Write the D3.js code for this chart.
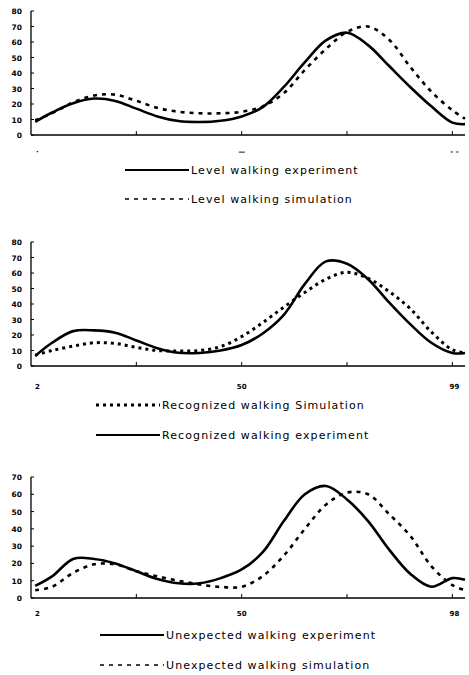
<!DOCTYPE html>
<html>
<head>
<meta charset="utf-8">
<script src="https://cdn.jsdelivr.net/npm/d3@7"></script>
<style>
  html, body { margin: 0; padding: 0; background: #fff; }
  svg { display: block; }
</style>
</head>
<body>
<script>
// gait cycle positions (%) shared by every curve
const gaitPct = [1, 5, 10, 15, 20, 25, 30, 35, 40, 45, 50, 55, 60, 65, 70, 75, 80, 85, 90, 95, 100, 103];

// panel 1 : level walking
const levelExp = [8.5, 14.5, 20.5, 23.5, 22, 17, 12, 9, 8.4, 9.2, 12, 18, 31, 47, 61, 66, 58, 44.5, 31, 18.5, 8, 7];
const levelSim = [9.5, 14, 21, 25.5, 26, 22, 17.5, 15, 14, 14, 15, 18.5, 27, 42, 55.5, 66.5, 70, 61.5, 44, 28, 16, 10.5];

// panel 2 : recognized walking
const recogSim = [7, 10, 12.8, 15, 14.5, 12, 10, 9.7, 10, 12.5, 19, 28, 38, 47.5, 56, 60.5, 56.5, 48, 37, 22, 10.5, 8.4];
const recogExp = [6.5, 15, 22.5, 23, 21.5, 16.5, 11.5, 8.5, 8.4, 10, 13.5, 21, 33, 53, 67.5, 66, 56, 41, 27, 15, 8.4, 8.4];

// panel 3 : unexpected walking
const unexpExp = [7, 12.5, 22.6, 22.6, 20, 15.5, 11, 8.5, 8.5, 11.5, 16.5, 26.5, 44.5, 60, 64.8, 57, 44.5, 28, 14, 6.5, 11.5, 10.5];
const unexpSim = [4.5, 6.5, 14.5, 19.5, 19.5, 15.5, 12.5, 10, 7.8, 6.4, 6.5, 12.7, 24.5, 40, 54, 61, 60, 48.5, 36, 18.5, 7.5, 4.5];

// tick labels under each panel (as printed)
const xLabels1 = ["\u00b7", "\u2014", "- -"];
const xLabels2 = ["2", "50", "99"];
const xLabels3 = ["2", "50", "98"];
const yTicks80 = [0, 10, 20, 30, 40, 50, 60, 70, 80];
const yTicks70 = [0, 10, 20, 30, 40, 50, 60, 70];

const width = 469, height = 675;

const svg = d3.select("body").append("svg")
  .attr("xmlns", "http://www.w3.org/2000/svg")
  .attr("width", width)
  .attr("height", height);

const x = d3.scaleLinear().domain([0, 103]).range([31, 465]);
const xTickVals = [25, 50, 75, 100];
const xLabelPos = [1.5, 50, 100.5];

const styles = {
  solid: { dash: null, width: 2.6 },
  dash: { dash: "4,5", width: 2.6 },
  dot: { dash: "3,4", width: 3 }
};
const legendStyles = {
  solid: { dash: null, width: 2 },
  dash: { dash: "4,5", width: 1.6 },
  dot: { dash: "3,4", width: 3 }
};

function panel(cfg) {
  const g = svg.append("g");
  const y = d3.scaleLinear().domain([0, cfg.yMax]).range([cfg.bottom, cfg.top]);

  // curves
  cfg.series.forEach(s => {
    const line = d3.line()
      .x((d, i) => x(gaitPct[i]))
      .y(d => y(d))
      .curve(d3.curveCatmullRom.alpha(0.5));
    g.append("path")
      .datum(s.values)
      .attr("d", line)
      .attr("fill", "none")
      .attr("stroke", "#000")
      .attr("stroke-width", styles[s.style].width)
      .attr("stroke-dasharray", styles[s.style].dash)
      .attr("stroke-linejoin", "round");
  });

  // y axis
  g.append("line")
    .attr("x1", x(0)).attr("x2", x(0))
    .attr("y1", y(0)).attr("y2", y(cfg.yMax))
    .attr("stroke", "#000").attr("stroke-width", 1.3);
  g.selectAll(".yt").data(cfg.yTicks).enter().append("line")
    .attr("x1", x(0)).attr("x2", x(0) + 3)
    .attr("y1", d => y(d)).attr("y2", d => y(d))
    .attr("stroke", "#000").attr("stroke-width", 1);
  g.selectAll(".yl").data(cfg.yTicks).enter().append("text")
    .attr("x", 22)
    .attr("y", d => y(d) + 3)
    .attr("text-anchor", "end")
    .attr("font-family", "DejaVu Sans")
    .attr("font-size", "7.5px")
    .attr("font-weight", 700)
    .text(d => d);

  // x axis
  g.append("line")
    .attr("x1", x(0)).attr("x2", x(103))
    .attr("y1", y(0)).attr("y2", y(0))
    .attr("stroke", "#000").attr("stroke-width", 1.3);
  g.selectAll(".xt").data(xTickVals).enter().append("line")
    .attr("x1", d => x(d)).attr("x2", d => x(d))
    .attr("y1", y(0)).attr("y2", y(0) - 4)
    .attr("stroke", "#000").attr("stroke-width", 1);
  g.selectAll(".xl").data(cfg.xLabels).enter().append("text")
    .attr("x", (d, i) => x(xLabelPos[i]))
    .attr("y", y(0) + cfg.xLabelDy)
    .attr("text-anchor", "middle")
    .attr("font-family", "DejaVu Sans")
    .attr("font-size", "7px")
    .attr("font-weight", 700)
    .text(d => d);

  // legend
  cfg.legend.forEach((l, i) => {
    const ly = cfg.legendY[i];
    g.append("line")
      .attr("x1", cfg.legendX).attr("x2", cfg.legendX + 64)
      .attr("y1", ly).attr("y2", ly)
      .attr("stroke", "#000")
      .attr("stroke-width", legendStyles[l.style].width)
      .attr("stroke-dasharray", legendStyles[l.style].dash);
    g.append("text")
      .attr("x", cfg.legendX + 66)
      .attr("y", ly + 4)
      .attr("font-family", "DejaVu Sans")
      .attr("font-size", "11px")
      .attr("letter-spacing", "1.1px")
      .text(l.label);
  });
}

panel({
  top: 11, bottom: 135, yMax: 80, yTicks: yTicks80, xLabels: xLabels1, xLabelDy: 19,
  series: [{ values: levelSim, style: "dash" }, { values: levelExp, style: "solid" }],
  legendX: 125, legendY: [170, 199],
  legend: [
    { label: "Level walking experiment", style: "solid" },
    { label: "Level walking simulation", style: "dash" }
  ]
});

panel({
  top: 242, bottom: 366, yMax: 80, yTicks: yTicks80, xLabels: xLabels2, xLabelDy: 23,
  series: [{ values: recogSim, style: "dot" }, { values: recogExp, style: "solid" }],
  legendX: 96, legendY: [405, 435],
  legend: [
    { label: "Recognized walking Simulation", style: "dot" },
    { label: "Recognized walking experiment", style: "solid" }
  ]
});

panel({
  top: 477, bottom: 598, yMax: 70, yTicks: yTicks70, xLabels: xLabels3, xLabelDy: 18,
  series: [{ values: unexpSim, style: "dash" }, { values: unexpExp, style: "solid" }],
  legendX: 100, legendY: [635, 665],
  legend: [
    { label: "Unexpected walking experiment", style: "solid" },
    { label: "Unexpected walking simulation", style: "dash" }
  ]
});
</script>
</body>
</html>
